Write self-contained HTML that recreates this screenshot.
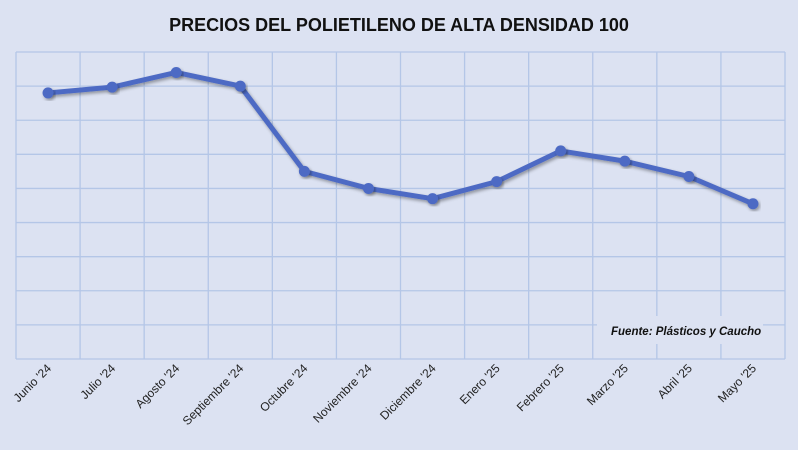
<!DOCTYPE html>
<html><head><meta charset="utf-8"><style>
body{margin:0;background:#fff}
#c{width:798px;height:450px;background:#dce2f2;position:relative;font-family:"Liberation Sans",sans-serif}
</style></head><body>
<div id="c">
<svg id="s" width="798" height="450"></svg>
</div>
<script>
const categories=["Junio '24","Julio '24","Agosto '24","Septiembre '24","Octubre '24","Noviembre '24","Diciembre '24","Enero '25","Febrero '25","Marzo '25","Abril '25","Mayo '25"];
const values=[7.8,7.97,8.4,8.0,5.5,5.0,4.7,5.2,6.1,5.8,5.35,4.55];
const yMax=9,yTicks=9;
const L=16,R=785,T=52,B=359;
const NS="http://www.w3.org/2000/svg";
const s=document.getElementById('s');
const bw=(R-L)/categories.length;
const xs=i=>L+bw*(i+0.5);
const ys=v=>B-(v/yMax)*(B-T);
function mk(t,a){const e=document.createElementNS(NS,t);for(const k in a)e.setAttribute(k,a[k]);s.appendChild(e);return e;}
const title=mk('text',{x:399,y:31,'text-anchor':'middle','font-size':'18','font-weight':'bold',fill:'#111','font-family':'Liberation Sans, sans-serif'});
title.textContent='PRECIOS DEL POLIETILENO DE ALTA DENSIDAD 100';


for(let i=0;i<=yTicks;i++){const y=ys(i*yMax/yTicks);
const g=mk('line',{x1:L,x2:R,y1:y,y2:y,stroke:'#b4c6e7','stroke-width':1.3});

}
for(let i=0;i<=categories.length;i++){const x=L+bw*i;
const g=mk('line',{x1:x,x2:x,y1:T,y2:B,stroke:'#b4c6e7','stroke-width':1.3});

}
const defs=mk('defs',{});defs.innerHTML='<filter id="sh" x="-20%" y="-20%" width="140%" height="140%"><feDropShadow dx="1.5" dy="2" stdDeviation="1.5" flood-color="#000" flood-opacity="0.35"/></filter>';
const pts=values.map((v,i)=>xs(i)+','+ys(v)).join(' ');
const line=mk('polyline',{points:pts,fill:'none',stroke:'#4e6bc4','stroke-width':5,'stroke-linejoin':'round',filter:'url(#sh)'});


values.forEach((v,i)=>{const c=mk('circle',{cx:xs(i),cy:ys(v),r:5.5,fill:'#4e6bc4',filter:'url(#sh)'});

});
categories.forEach((c,i)=>{const x=xs(i)+4,y=369;
const t=mk('text',{x:x,y:y,'text-anchor':'end','font-size':'12',fill:'#222',transform:`rotate(-45 ${x} ${y})`});
t.textContent=c;

});
const bx=mk('rect',{x:597,y:316,width:166,height:28,fill:'#dce2f2'});


const src=mk('text',{x:611,y:335,'font-size':'11.5','font-weight':'bold','font-style':'italic',fill:'#111'});
src.textContent='Fuente: Plásticos y Caucho';


</script>
</body></html>
